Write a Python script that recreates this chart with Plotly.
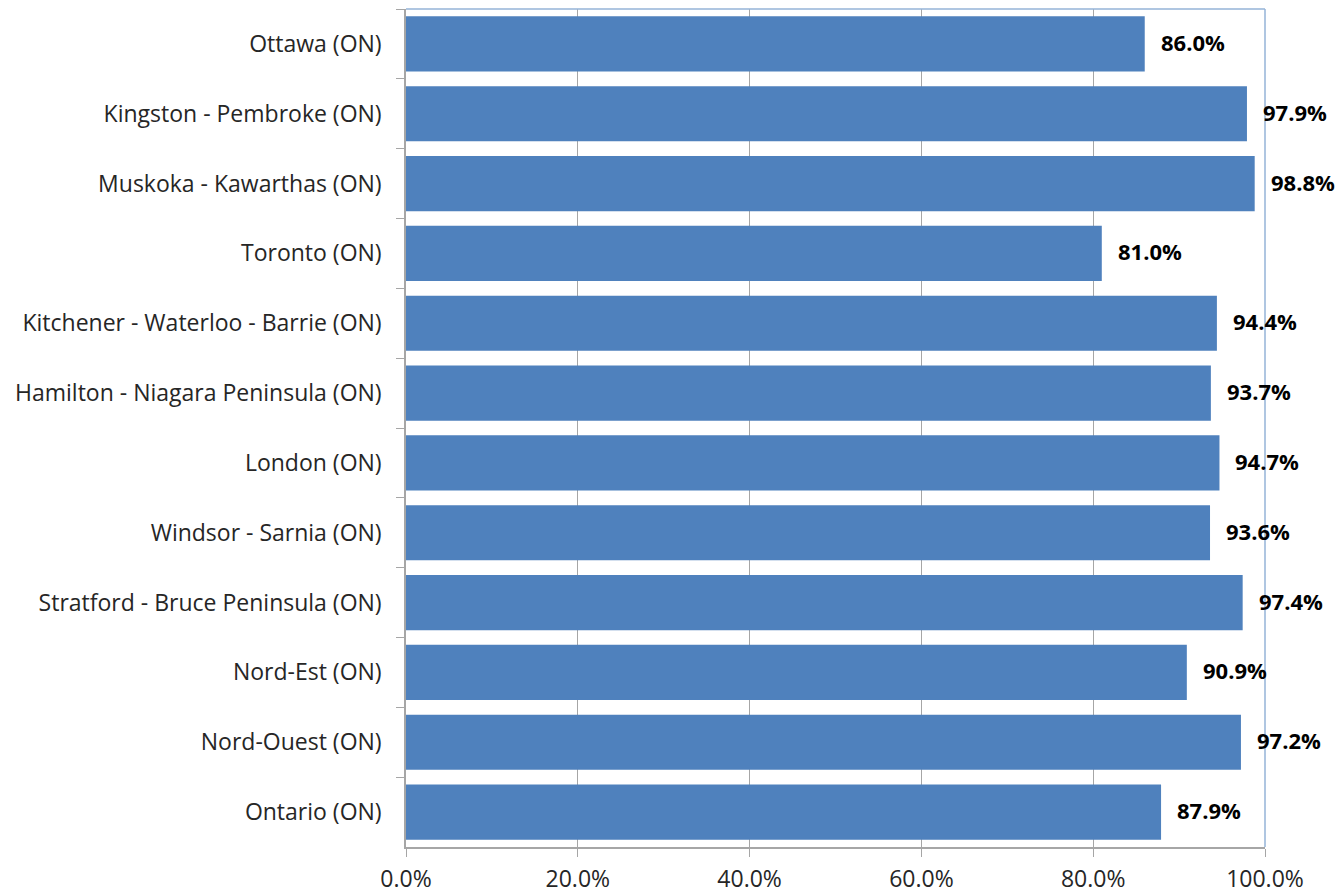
import plotly.graph_objects as go

# Données
regions = [
    "Ottawa (ON)",
    "Kingston - Pembroke (ON)",
    "Muskoka - Kawarthas (ON)",
    "Toronto (ON)",
    "Kitchener - Waterloo - Barrie (ON)",
    "Hamilton - Niagara Peninsula (ON)",
    "London (ON)",
    "Windsor - Sarnia (ON)",
    "Stratford - Bruce Peninsula (ON)",
    "Nord-Est (ON)",
    "Nord-Ouest (ON)",
    "Ontario (ON)",
]
values = [0.860, 0.979, 0.988, 0.810, 0.944, 0.937, 0.947, 0.936, 0.974, 0.909, 0.972, 0.879]
x_ticks = [0, 0.2, 0.4, 0.6, 0.8, 1.0]

FONT = "Open Sans, Liberation Sans, Arial, sans-serif"
BAR_COLOR = "#4F81BD"
AXIS_GRAY = "#A6A6A6"
BORDER_BLUE = "#95B3D7"
TEXT_COLOR = "#262626"

fig = go.Figure()

fig.add_trace(
    go.Bar(
        x=values,
        y=regions,
        orientation="h",
        marker=dict(color=BAR_COLOR, line=dict(width=0)),
        hoverinfo="x+y",
    )
)

# Étiquettes de valeurs
for r, v in zip(regions, values):
    fig.add_annotation(
        x=v, y=r, xref="x", yref="y",
        text=f"<b>{v * 100:.1f}%</b>",
        showarrow=False, xanchor="left", yanchor="middle", xshift=14, yshift=2,
        font=dict(family=FONT, size=22, color="#000000"),
    )

# Bordure du cadre (haut et droite)
fig.add_shape(type="line", xref="paper", yref="paper", x0=0, x1=1, y0=1, y1=1,
              line=dict(color=BORDER_BLUE, width=1.5))
fig.add_shape(type="line", xref="paper", yref="paper", x0=1, x1=1, y0=0, y1=1,
              line=dict(color=BORDER_BLUE, width=1.5))

# La page ajoute une marge de 8 px autour de la figure
fig.update_layout(
    width=1336, height=887,
    margin=dict(l=398, r=79, t=1, b=48, autoexpand=False),
    paper_bgcolor="white", plot_bgcolor="white",
    bargap=0.21,
    showlegend=False,
    font=dict(family=FONT, size=23, color=TEXT_COLOR),
)

fig.update_xaxes(
    range=[0, 1],
    tickvals=x_ticks,
    tickformat=".1%",
    showgrid=True, gridcolor=AXIS_GRAY, gridwidth=1,
    showline=True, linecolor=AXIS_GRAY, linewidth=1.5,
    ticks="outside", ticklen=8, tickcolor=AXIS_GRAY,
    tickfont=dict(family=FONT, size=23, color=TEXT_COLOR),
    ticklabelstandoff=3,
    zeroline=False,
)
fig.update_yaxes(
    autorange="reversed",
    showline=True, linecolor=AXIS_GRAY, linewidth=1.5,
    ticks="outside", ticklen=8, tickcolor=AXIS_GRAY, tickson="boundaries",
    tickfont=dict(family=FONT, size=23, color=TEXT_COLOR),
    ticklabelstandoff=18,
    showgrid=False,
)

fig.write_html("out.html")
